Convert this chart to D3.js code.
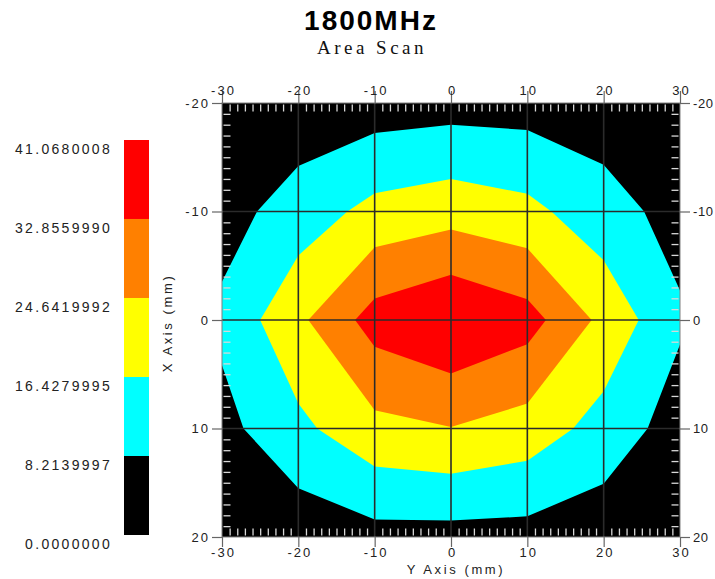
<!DOCTYPE html>
<html><head><meta charset="utf-8">
<script src="https://cdn.jsdelivr.net/npm/d3@7"></script>
<style>body{margin:0;background:#fff}svg{display:block}</style>
</head><body>
<svg id="c" width="715" height="579"></svg>
<script>
// ---- data ----
const xGrid = [-30, -20, -10, 0, 10, 20, 30];     // Y Axis (mm) sample positions
const yGrid = [-20, -10, 0, 10, 20];               // X Axis (mm) sample positions
const rowYm20 = [1.5, 2.98, 4.11, 4.93, 4.73, 3.86, 1.5];
const rowYm10 = [5.0, 12.0, 18.9, 21.36, 18.7, 11.5, 5.3];
const rowY0   = [9.97, 22.89, 36.3, 41.068, 36.2, 22.48, 9.3];
const rowY10  = [5.75, 14.5, 22.3, 24.4, 21.2, 13.25, 4.5];
const rowY20  = [1.5, 3.07, 5.5, 5.3, 5.16, 3.37, 1.5];
const levels = [8.214, 16.428, 24.642, 32.856];
const levelColors = ["#00FFFF", "#FFFF00", "#FF8000", "#FF0000"];
const lowColor = "#000000";
const barBounds = [0, 8.214, 16.428, 24.642, 32.856, 41.068];
const barColors = ["#000000", "#00FFFF", "#FFFF00", "#FF8000", "#FF0000"];
const barLabels = ["0.0000000", "8.2139997", "16.4279995", "24.6419992", "32.8559990", "41.0680008"];
const xTicks = [-30, -20, -10, 0, 10, 20, 30];
const yTicks = [-20, -10, 0, 10, 20];
const titleText = "1800MHz";
const subtitleText = "Area Scan";
const xTitle = "Y Axis (mm)";
const yTitle = "X Axis (mm)";

// ---- layout ----
const svg = d3.select("#c");
const P = {l: 222, r: 680, t: 103, b: 537};
const x = d3.scaleLinear().domain([-30, 30]).range([P.l, P.r]);
const y = d3.scaleLinear().domain([-20, 20]).range([P.t, P.b]);
const sans = "'Liberation Sans', Arial, sans-serif";
const fmt = d => String(d);   // plain hyphen-minus like the reference

// title
svg.append("text").attr("x", 371).attr("y", 30).attr("text-anchor", "middle")
  .attr("font-family", sans).attr("font-weight", "bold").attr("font-size", 28)
  .attr("letter-spacing", 2).attr("fill", "#000").text(titleText);
svg.append("text").attr("x", 372).attr("y", 54).attr("text-anchor", "middle")
  .attr("font-family", "'Liberation Serif', 'Times New Roman', serif").attr("font-size", 19)
  .attr("letter-spacing", 3.5).attr("fill", "#111").text(subtitleText);

// clip
svg.append("defs").append("clipPath").attr("id", "plotclip")
  .append("rect").attr("x", P.l).attr("y", P.t).attr("width", P.r - P.l).attr("height", P.b - P.t);

// background (lowest band)
svg.append("rect").attr("x", P.l).attr("y", P.t).attr("width", P.r - P.l).attr("height", P.b - P.t)
  .attr("fill", lowColor);

// contours
const values = [].concat(rowYm20, rowYm10, rowY0, rowY10, rowY20);
const nx = xGrid.length, ny = yGrid.length;
const gx = d3.scaleLinear().domain([0.5, nx - 0.5]).range([x(xGrid[0]), x(xGrid[nx - 1])]);
const gy = d3.scaleLinear().domain([0.5, ny - 0.5]).range([y(yGrid[0]), y(yGrid[ny - 1])]);
const proj = d3.geoTransform({point: function(px, py) { this.stream.point(gx(px), gy(py)); }});
const path = d3.geoPath(proj);
const conts = d3.contours().size([nx, ny]).thresholds(levels)(values);
const cg = svg.append("g").attr("clip-path", "url(#plotclip)");
cg.selectAll("path").data(conts).join("path")
  .attr("d", path)
  .attr("fill", (d, i) => levelColors[i])
  .attr("stroke", "none");

// grid lines
const gg = svg.append("g").attr("clip-path", "url(#plotclip)");
gg.selectAll("line.v").data(xTicks.slice(1, -1)).join("line").attr("class", "v")
  .attr("x1", d => x(d)).attr("x2", d => x(d)).attr("y1", P.t).attr("y2", P.b)
  .attr("stroke", "#2b2b2b").attr("stroke-width", 1.6);
gg.selectAll("line.h").data(yTicks.slice(1, -1)).join("line").attr("class", "h")
  .attr("y1", d => y(d)).attr("y2", d => y(d)).attr("x1", P.l).attr("x2", P.r)
  .attr("stroke", "#2b2b2b").attr("stroke-width", 1.6);

// minor ticks (inside, every 1 mm)
const minorX = d3.range(-30, 31, 1).filter(v => v % 10 !== 0);
const minorY = d3.range(-20, 21, 1).filter(v => v % 10 !== 0);
function styleMinor(g) {
  g.select(".domain").remove();
  g.selectAll("text").remove();
  g.selectAll("line").attr("stroke", "#d8d8d8").attr("stroke-width", 1.3);
}
svg.append("g").attr("transform", `translate(0,${P.t + 1.5})`)
  .call(d3.axisTop(x).tickValues(minorX).tickSize(-7)).call(styleMinor);
svg.append("g").attr("transform", `translate(0,${P.b - 1.5})`)
  .call(d3.axisBottom(x).tickValues(minorX).tickSize(-7)).call(styleMinor);
svg.append("g").attr("transform", `translate(${P.l + 1.5},0)`)
  .call(d3.axisLeft(y).tickValues(minorY).tickSize(-7)).call(styleMinor);
svg.append("g").attr("transform", `translate(${P.r - 1.5},0)`)
  .call(d3.axisRight(y).tickValues(minorY).tickSize(-7)).call(styleMinor);

// frame
svg.append("rect").attr("x", P.l).attr("y", P.t).attr("width", P.r - P.l).attr("height", P.b - P.t)
  .attr("fill", "none").attr("stroke", "#808080").attr("stroke-width", 1);

// major axes
function styleMajor(g, ls) {
  g.select(".domain").remove();
  g.selectAll("line").attr("stroke", "#666").attr("stroke-width", 1.2);
  g.selectAll("text").attr("font-family", sans).attr("font-size", 13)
    .attr("letter-spacing", ls).attr("fill", "#222");
}
svg.append("g").attr("transform", `translate(1,${P.t})`)
  .call(d3.axisTop(x).tickValues(xTicks).tickSize(12).tickPadding(-4).tickFormat(fmt)).call(styleMajor, 2)
  .selectAll("line").attr("transform", "translate(-1,0)");
svg.append("g").attr("transform", `translate(1,${P.b})`)
  .call(d3.axisBottom(x).tickValues(xTicks).tickSize(10).tickPadding(1).tickFormat(fmt)).call(styleMajor, 2)
  .selectAll("line").attr("transform", "translate(-1,0)");
svg.append("g").attr("transform", `translate(${P.l},0)`)
  .call(d3.axisLeft(y).tickValues(yTicks).tickSize(10).tickPadding(2).tickFormat(fmt)).call(styleMajor, 2);
svg.append("g").attr("transform", `translate(${P.r},0)`)
  .call(d3.axisRight(y).tickValues(yTicks).tickSize(10).tickPadding(3).tickFormat(fmt)).call(styleMajor, 0.6);

// axis titles
svg.append("text").attr("x", 456).attr("y", 574).attr("text-anchor", "middle")
  .attr("font-family", sans).attr("font-size", 13).attr("letter-spacing", 2.6).attr("fill", "#222")
  .text(xTitle);
svg.append("text").attr("transform", "translate(172,323) rotate(-90)").attr("text-anchor", "middle")
  .attr("font-family", sans).attr("font-size", 13).attr("letter-spacing", 2.6).attr("fill", "#222")
  .text(yTitle);

// colour bar
const cb = d3.scaleLinear().domain([0, barBounds[barBounds.length - 1]]).range([535, 140]);
const bars = barColors.map((c, i) => ({c, lo: barBounds[i], hi: barBounds[i + 1]}));
svg.append("g").selectAll("rect").data(bars).join("rect")
  .attr("x", 124).attr("width", 25)
  .attr("y", d => cb(d.hi)).attr("height", d => cb(d.lo) - cb(d.hi))
  .attr("fill", d => d.c);
svg.append("g").selectAll("text").data(barBounds).join("text")
  .attr("x", 112).attr("y", d => cb(d) + 9).attr("dy", "0.35em")
  .attr("text-anchor", "end").attr("font-family", sans).attr("font-size", 14)
  .attr("letter-spacing", 2.3).attr("fill", "#222")
  .text((d, i) => barLabels[i]);
</script>
</body></html>
